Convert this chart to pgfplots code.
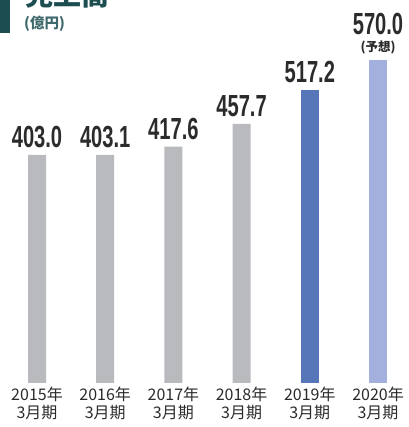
\documentclass[border=0pt]{standalone}
\usepackage{fontspec}
\setmainfont{Liberation Sans}
\newfontfamily\numfont{Liberation Sans}
\newfontfamily\cjk{Noto Sans CJK JP}
\usepackage{pgfplots}
\pgfplotsset{compat=1.18}

\definecolor{barGrey}{HTML}{B9BABD}
\definecolor{bar19}{HTML}{5676B9}
\definecolor{bar20}{HTML}{A3AFDC}
\definecolor{teal}{HTML}{1C4D51}
\definecolor{valtxt}{HTML}{2B2B2B}

\newcommand{\bignum}[1]{\scalebox{0.66}[1]{\numfont\bfseries\fontsize{30.5}{30.5}\selectfont #1}}

\begin{document}
\begin{tikzpicture}
\useasboundingbox (0,0) rectangle (408pt,427pt);
% header, cropped at the top like the source
\fill[teal] (0,394pt) rectangle (10pt,427pt);
\node[anchor=base west, inner sep=0, text=teal] at (25pt,421pt)
  {\cjk\bfseries\fontsize{28}{28}\selectfont 売上高};
\node[anchor=base west, inner sep=0, text=teal!85] at (24pt,398pt)
  {\cjk\bfseries\fontsize{14.5}{14.5}\selectfont (億円)};

\begin{axis}[
  anchor=south west, at={(2.9pt,44pt)},
  x=68.2pt, y=0.566pt,
  xmin=-0.5, xmax=5.5, ymin=0, ymax=600,
  axis line style={draw=none},
  ymajorticks=false,
  xtick={0,...,5},
  xticklabels={2015年\\3月期,2016年\\3月期,2017年\\3月期,2018年\\3月期,2019年\\3月期,2020年\\3月期},
  major tick length=0pt,
  xticklabel style={align=center, inner sep=0pt, yshift=-4pt,
    font=\cjk\fontsize{16}{18}\selectfont, text=valtxt},
  ybar, bar width=18pt, bar shift=0pt,
  clip=false,
  nodes near coords,
  every node near coord/.append style={inner sep=0pt, yshift=7pt, text=valtxt, anchor=south},
]
\addplot[fill=barGrey, draw=none, point meta=explicit symbolic,
  nodes near coords={\bignum{\pgfplotspointmeta}}]
  coordinates {(0,403.0)[403.0] (1,403.1)[403.1] (2,417.6)[417.6] (3,457.7)[457.7]};
\addplot[fill=bar19, draw=none, point meta=explicit symbolic,
  nodes near coords={\bignum{\pgfplotspointmeta}}]
  coordinates {(4,517.2)[517.2]};
\addplot[fill=bar20, draw=none, point meta=explicit symbolic,
  every node near coord/.append style={yshift=-1pt},
  nodes near coords={\shortstack{\bignum{\pgfplotspointmeta}\\[3pt]{\cjk\bfseries\fontsize{12.5}{12.5}\selectfont (予想)}}}]
  coordinates {(5,570.0)[570.0]};
\end{axis}
\end{tikzpicture}
\end{document}
